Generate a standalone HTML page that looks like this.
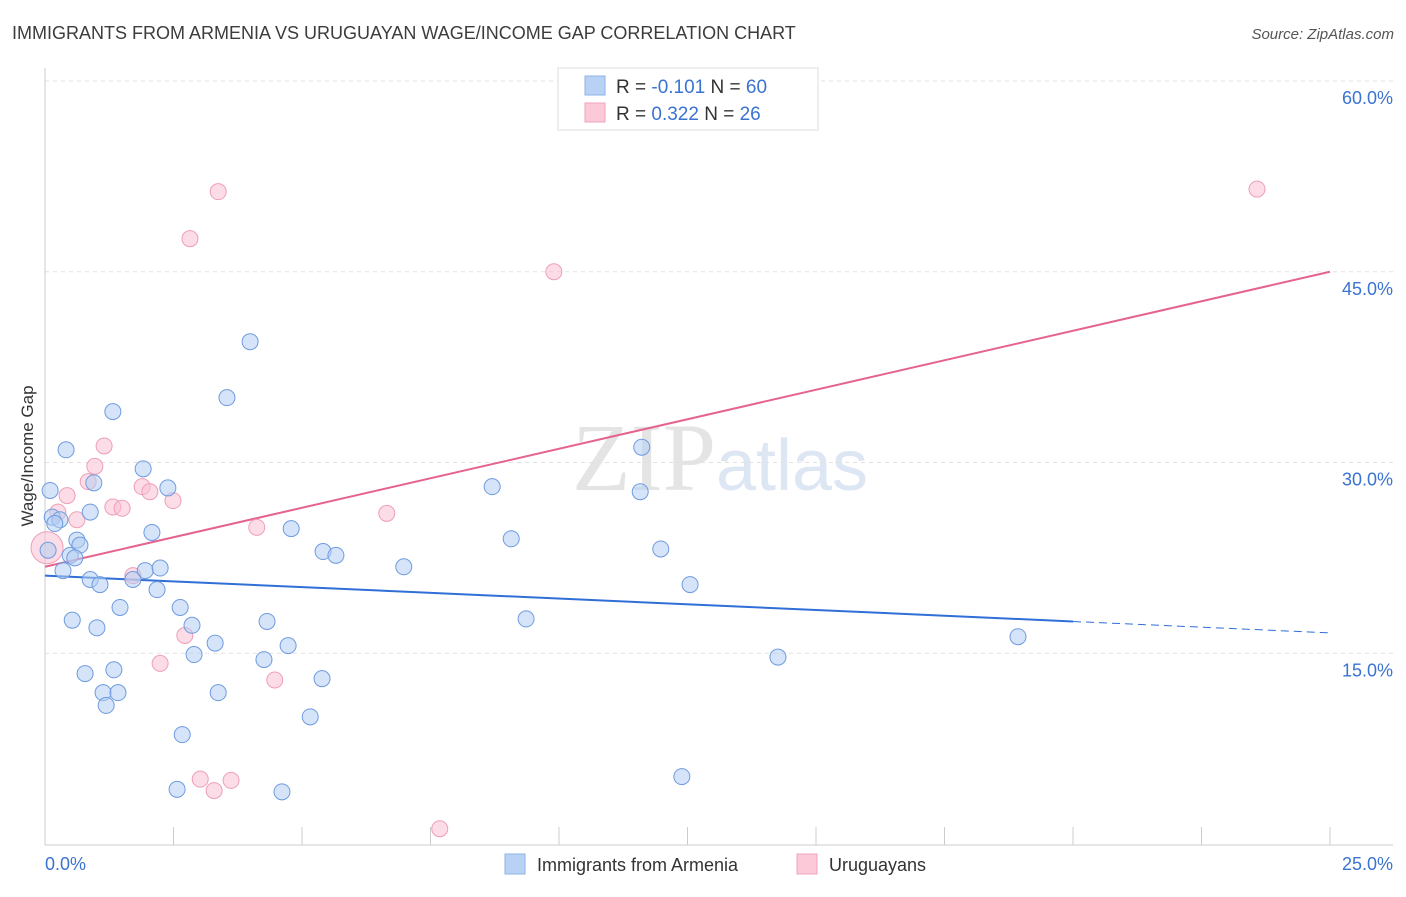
<!DOCTYPE html>
<html><head><meta charset="utf-8"><style>
body{margin:0;background:#fff;font-family:"Liberation Sans",sans-serif;}
svg text{font-family:"Liberation Sans",sans-serif;}
</style></head><body>
<svg id="chart" width="1406" height="892" xmlns="http://www.w3.org/2000/svg">
<text x="12" y="39" font-size="18" fill="#3c3c3c">IMMIGRANTS FROM ARMENIA VS URUGUAYAN WAGE/INCOME GAP CORRELATION CHART</text>
<text x="1394" y="39" font-size="15" fill="#555" text-anchor="end" font-style="italic">Source: ZipAtlas.com</text>
<text x="720" y="490" font-size="96" text-anchor="middle" fill="#e4e4e4"><tspan font-family="Liberation Serif">ZIP</tspan><tspan fill="#dde6f3" font-size="72">atlas</tspan></text>
<g id="grid"></g>
<g id="axes"></g>
<g id="trends"></g>
<g id="points"></g>
<text transform="translate(33,456) rotate(-90)" font-size="17" fill="#333" text-anchor="middle">Wage/Income Gap</text>
<g>
<rect x="558" y="68" width="260" height="62" fill="#fff" stroke="#ddd"/>
<rect x="585" y="76" width="20" height="19" fill="#b8d2f5" stroke="#8fb2e6"/>
<rect x="585" y="103" width="20" height="19" fill="#fbc9d8" stroke="#f0a3bb"/>
<text x="616" y="93" font-size="19" fill="#333">R = <tspan fill="#3b73d1">-0.101</tspan>   N = <tspan fill="#3b73d1">60</tspan></text>
<text x="616" y="120" font-size="19" fill="#333">R =  <tspan fill="#3b73d1">0.322</tspan>   N =  <tspan fill="#3b73d1">26</tspan></text>
</g>
<g>
<rect x="505" y="854" width="20" height="20" fill="#b8d2f5" stroke="#8fb2e6"/>
<text x="537" y="871" font-size="18" fill="#333">Immigrants from Armenia</text>
<rect x="797" y="854" width="20" height="20" fill="#fbc9d8" stroke="#f0a3bb"/>
<text x="829" y="871" font-size="18" fill="#333">Uruguayans</text>
</g>
</svg>
<script>
const blueX=[0.10,0.14,0.29,0.41,0.88,0.95,0.62,0.68,0.49,0.58,0.35,0.88,1.07,0.53,1.01,1.46,1.32,1.91,2.39,2.08,1.95,2.24,2.18,1.71,2.63,2.86,3.31,2.90,0.78,1.34,1.13,1.42,1.19,3.37,2.67,2.57,3.99,3.54,4.79,5.41,5.66,4.32,4.73,4.26,5.39,5.16,4.61,6.98,8.70,9.07,9.36,11.61,11.58,11.98,12.55,12.39,14.26,18.93,0.06,0.19];
const blueY=[27.8,25.7,25.5,31.0,26.1,28.4,23.9,23.5,22.7,22.5,21.5,20.8,20.4,17.6,17.0,18.6,34.0,29.5,28.0,24.5,21.5,21.7,20.0,20.8,18.6,17.2,15.8,14.9,13.4,13.7,11.9,11.9,10.9,11.9,8.6,4.3,39.5,35.1,24.8,23.0,22.7,17.5,15.6,14.5,13.0,10.0,4.1,21.8,28.1,24.0,17.7,31.2,27.7,23.2,20.4,5.3,14.7,16.3,23.1,25.2];
const pinkX=[0.04,0.25,0.43,0.62,0.97,1.15,0.84,1.32,1.50,1.89,2.04,2.49,1.71,2.24,2.72,3.37,2.82,3.02,3.29,3.62,4.12,4.47,6.65,7.68,9.90,23.58];
const pinkY=[23.3,26.1,27.4,25.5,29.7,31.3,28.5,26.5,26.4,28.1,27.7,27.0,21.1,14.2,16.4,51.3,47.6,5.1,4.2,5.0,24.9,12.9,26.0,1.2,45.0,51.5];
const blueTrendX=[0,20,25];
const blueTrendY=[21.1,17.5,16.6];
const pinkTrendX=[0,25];
const pinkTrendY=[21.8,45.0];
const yTicks=[15,30,45,60];
const yTickLabels=["15.0%","30.0%","45.0%","60.0%"];
const xTicks=[0,2.5,5,7.5,10,12.5,15,17.5,20,22.5,25];
const xEndLabels=["0.0%","25.0%"];

const NS="http://www.w3.org/2000/svg";
const sx=v=>45+v*(1330-45)/25;
const sy=v=>844-v*(844-81)/60;
function mk(tag,attrs,parent){const e=document.createElementNS(NS,tag);for(const k in attrs)e.setAttribute(k,attrs[k]);parent.appendChild(e);return e;}
const grid=document.getElementById('grid'),axes=document.getElementById('axes'),trends=document.getElementById('trends'),pts=document.getElementById('points');
yTicks.forEach((t,i)=>{
  const l=mk('line',{x1:45,x2:1393,y1:sy(t),y2:sy(t),stroke:'#e2e2e2','stroke-dasharray':'4,4'},grid);
  
  
  const tx=mk('text',{x:1393,y:sy(t)+23,'font-size':18,fill:'#3b73d1','text-anchor':'end'},axes);
  tx.textContent=yTickLabels[i];
  
  
});
const ya=mk('line',{x1:45,x2:45,y1:68,y2:845,stroke:'#ccc'},axes);


const xa=mk('line',{x1:45,x2:1393,y1:845,y2:845,stroke:'#ccc'},axes);


xTicks.forEach(t=>{
  const l=mk('line',{x1:sx(t),x2:sx(t),y1:827,y2:845,stroke:'#ccc'},axes);
  
  
});
const xl0=mk('text',{x:45,y:870,'font-size':18,fill:'#3b73d1'},axes);
xl0.textContent=xEndLabels[0];


const xl1=mk('text',{x:1393,y:870,'font-size':18,fill:'#3b73d1','text-anchor':'end'},axes);
xl1.textContent=xEndLabels[1];



function dot(x,y,fill,stroke,r){
  const c=mk('circle',{cx:sx(x),cy:sy(y),r:r,fill:fill,stroke:stroke,'stroke-width':1,'fill-opacity':0.55},pts);
  return c;
}
pinkX.forEach((x,i)=>{
  const c=dot(x,pinkY[i],'#f9bfd1','#ee9fb8',i===0?16:8);
  
  
});
blueX.forEach((x,i)=>{
  const c=dot(x,blueY[i],'#b3cdf2','#6f9be0',8);
  
  
});
const bs=mk('line',{x1:sx(blueTrendX[0]),y1:sy(blueTrendY[0]),x2:sx(blueTrendX[1]),y2:sy(blueTrendY[1]),stroke:'#2f6fd6','stroke-width':2},trends);


const bd=mk('line',{x1:sx(blueTrendX[1]),y1:sy(blueTrendY[1]),x2:sx(blueTrendX[2]),y2:sy(blueTrendY[2]),stroke:'#2f6fd6','stroke-width':1,'stroke-dasharray':'8,5'},trends);


const pt=mk('line',{x1:sx(pinkTrendX[0]),y1:sy(pinkTrendY[0]),x2:sx(pinkTrendX[1]),y2:sy(pinkTrendY[1]),stroke:'#e5638d','stroke-width':2},trends);


</script>
</body></html>
